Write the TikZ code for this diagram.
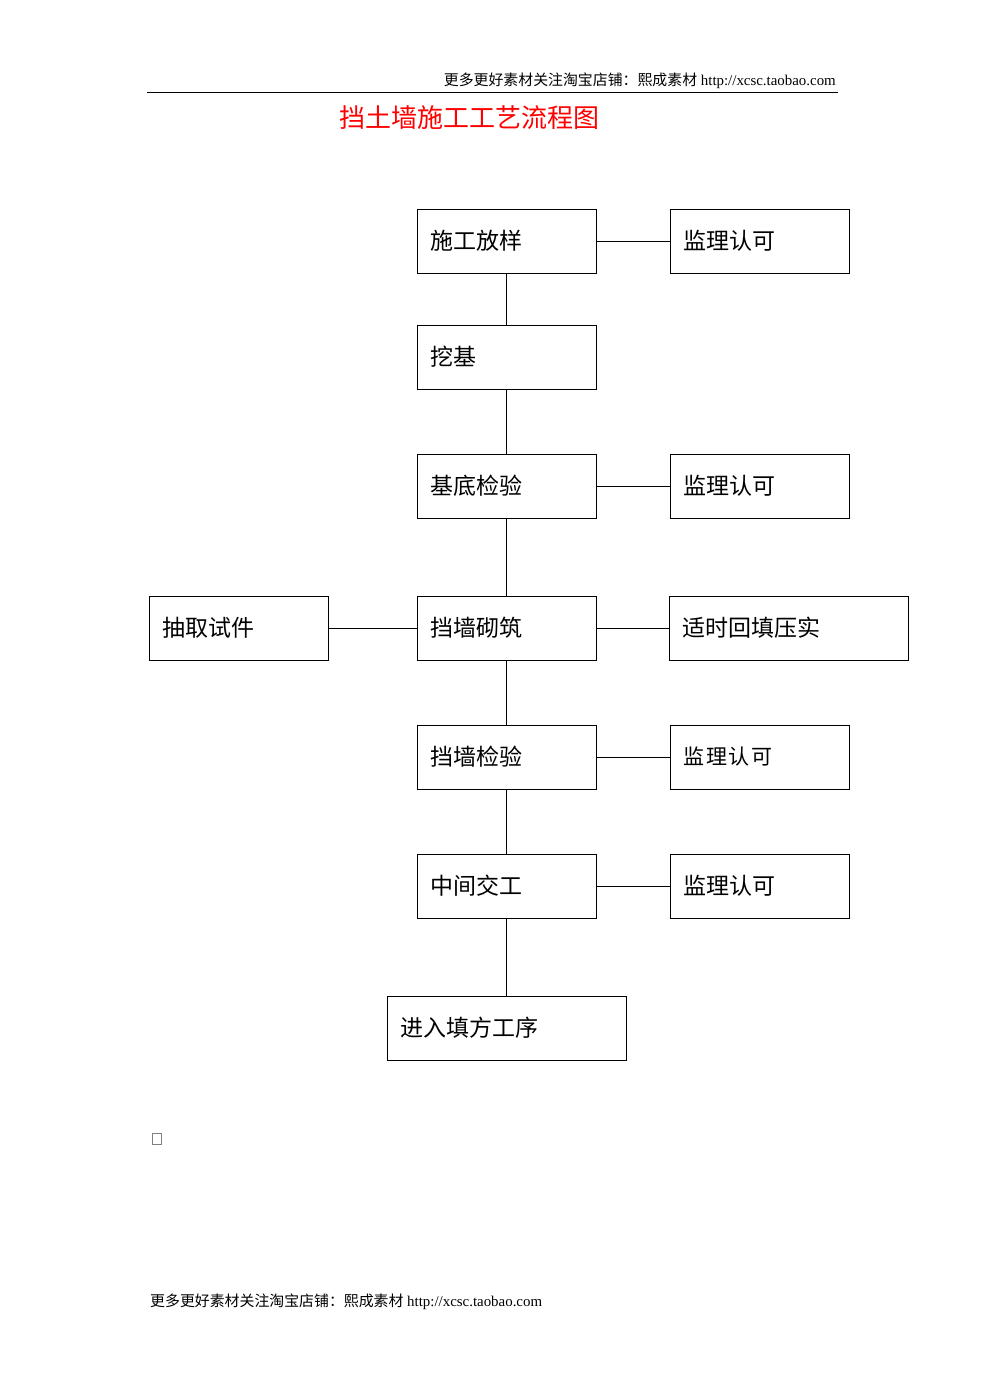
\documentclass[tikz,border=0pt]{standalone}
\usepackage{fontspec}
\setmainfont{Liberation Serif}
\newfontfamily\cjk{Noto Sans CJK SC}
\usepackage{xcolor}

\begin{document}
\begin{tikzpicture}[x=1pt, y=-1pt,
      box/.style={draw, line width=1pt, minimum height=64pt, text width=153pt,
                  inner xsep=13pt, align=left, font=\cjk\fontsize{23}{25}\selectfont},
      wide/.style={box, text width=213pt},
      link/.style={line width=1pt},
      note/.style={font=\fontsize{14.9}{17}\selectfont, inner xsep=0pt}
    ]
      \useasboundingbox (0,0) rectangle (985,1393);

      % header and title
      \node[note, anchor=base east] (head) at (836,85)
        {{\cjk 更多更好素材关注淘宝店铺：熙成素材}\ http://xcsc.taobao.com};
      \coordinate (hl) at (147,92);
      \coordinate (hr) at (838,92);
      \draw[line width=1pt] (hl) -- (hr);
      \node[text=red, font=\cjk\fontsize{26}{28}\selectfont] (title) at (469.5,118)
        {挡土墙施工工艺流程图};

      % main column
      \node[box] (fy) at (506.5,241) {施工放样};
      \node[box] (wj) at (506.5,357) {挖基};
      \node[box] (jd) at (506.5,486) {基底检验};
      \node[box] (qz) at (506.5,628) {挡墙砌筑};
      \node[box] (qj) at (506.5,757) {挡墙检验};
      \node[box] (zj) at (506.5,886) {中间交工};
      \node[wide] (tf) at (506.5,1028) {进入填方工序};

      % side boxes
      \node[box] (jl1) at (759.5,241) {监理认可};
      \node[box] (jl2) at (759.5,486) {监理认可};
      \node[box] (cq) at (238.5,628) {抽取试件};
      \node[wide] (ht) at (789,628) {适时回填压实};
      \node[box, font=\cjk\fontsize{21}{25}\selectfont] (jl3) at (759.5,757)
        {监\hspace{2pt}理\hspace{2pt}认\hspace{2pt}可};
      \node[box] (jl4) at (759.5,886) {监理认可};

      \draw[link] (fy) -- (jl1);
      \draw[link] (fy) -- (wj);
      \draw[link] (wj) -- (jd);
      \draw[link] (jd) -- (jl2);
      \draw[link] (jd) -- (qz);
      \draw[link] (cq) -- (qz);
      \draw[link] (qz) -- (ht);
      \draw[link] (qz) -- (qj);
      \draw[link] (qj) -- (jl3);
      \draw[link] (qj) -- (zj);
      \draw[link] (zj) -- (jl4);
      \draw[link] (zj) -- (tf);

      % stray mark and footer
      \node[draw=gray, line width=1pt, minimum width=9pt, minimum height=11pt,
            inner sep=0pt] (mark) at (157,1139) {};
      \node[note, anchor=base west] (foot) at (150,1306)
        {{\cjk 更多更好素材关注淘宝店铺：熙成素材}\ http://xcsc.taobao.com};
    \end{tikzpicture}
\end{document}
